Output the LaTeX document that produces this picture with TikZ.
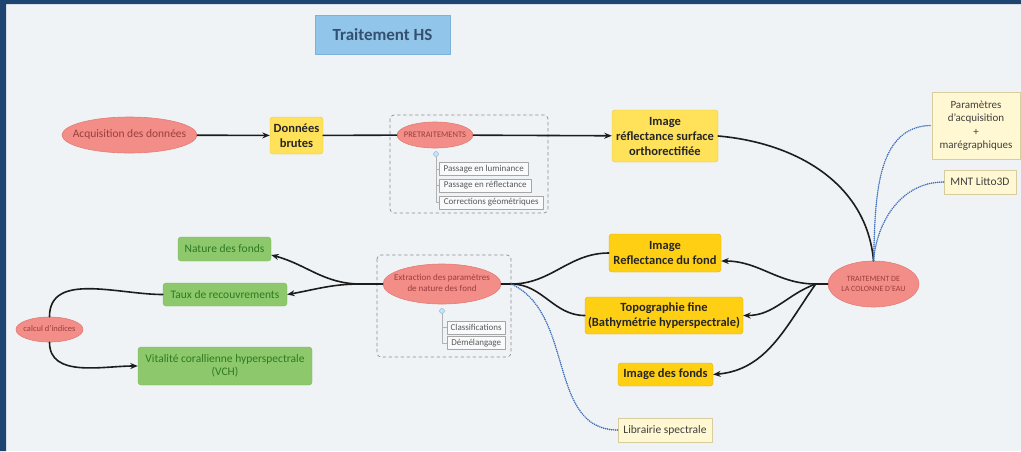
\documentclass[tikz,border=0pt]{standalone}
\usepackage{fontspec}
\setmainfont{Carlito}
\usetikzlibrary{shapes.geometric,arrows.meta}
\definecolor{cadre}{HTML}{1E4572}
\definecolor{fond}{HTML}{F0F3F6}
\definecolor{saumon}{HTML}{F28D88}
\definecolor{saumonbord}{HTML}{E27C77}
\definecolor{saumontexte}{HTML}{9C3F3C}
\definecolor{jaunec}{HTML}{FFE25A}
\definecolor{jauneb}{HTML}{E2C547}
\definecolor{dore}{HTML}{FFCF14}
\definecolor{doreb}{HTML}{E0AE00}
\definecolor{vertf}{HTML}{8DC86C}
\definecolor{vertb}{HTML}{7CB95C}
\definecolor{vertt}{HTML}{2E7A22}
\definecolor{creme}{HTML}{FFF8D2}
\definecolor{cremeb}{HTML}{D6CC9E}
\definecolor{bleut}{HTML}{92C5EA}
\definecolor{bleutb}{HTML}{7BB1DA}
\definecolor{bleutexte}{HTML}{33506F}
\definecolor{pointille}{HTML}{3A6DB8}
\definecolor{encre}{HTML}{1C1C1C}
% texte sans largeur : l'ellipse garde la taille donnee
\newcommand{\ovtxt}[1]{\makebox[0pt]{\begin{tabular}{@{}c@{}}#1\end{tabular}}}

\begin{document}
\begin{tikzpicture}[x=1pt,y=1pt,>={Stealth[length=7.5pt,width=6pt]},line join=round,line cap=round,
	font=\fontsize{11.5}{13.5}\selectfont,
	titre/.style={draw=bleutb,fill=bleut,text=bleutexte,font=\fontsize{17}{20}\selectfont\bfseries},
	ovale/.style={ellipse,draw=saumonbord,fill=saumon,text=saumontexte,inner sep=0pt,line width=0.6pt},
	jaune/.style={draw=jauneb,fill=jaunec,rounded corners=3pt,inner sep=0pt,align=center,text=black!85,font=\fontsize{12.5}{15}\selectfont\bfseries},
	dore/.style={jaune,draw=doreb,fill=dore},
	vert/.style={draw=vertb,fill=vertf,rounded corners=3pt,inner sep=0pt,align=center,text=vertt},
	note/.style={draw=cremeb,fill=creme,inner sep=0pt,align=center,text=black!75},
	sous/.style={draw=black!35,fill=white!60!fond,inner sep=0pt,anchor=west,minimum height=13,text=black!65,font=\fontsize{9}{10}\selectfont},
	puce/.style={circle,draw=bleutb,fill=bleut!50,inner sep=0pt,minimum size=5},
	lien/.style={line width=1.6pt,draw=encre},
	bleu/.style={line width=1.7pt,draw=pointille,dash pattern=on 0pt off 2pt},
	groupe/.style={dashed,draw=black!45,rounded corners=4pt,line width=0.7pt}]
	\useasboundingbox (0,0) rectangle (1021,-451);
	\fill[fond] (0,0) rectangle (1021,-451);
	\fill[cadre] (0,0) rectangle (6,-451) (0,0) rectangle (1021,-4);
	\draw[groupe] (390,-115) rectangle (548,-213);
	\draw[groupe] (377,-255) rectangle (511,-357);
	% noeuds
	\node[titre,minimum width=135,minimum height=39] (titre) at (382.5,-34.5) {Traitement HS};
	\node[ovale,minimum width=135,minimum height=36] (acq) at (129.5,-135) {\ovtxt{Acquisition des données}};
	\node[jaune,minimum width=53,minimum height=37] (brutes) at (296.5,-135.5) {Données\\brutes};
	\node[ovale,minimum width=76,minimum height=26,font=\fontsize{8.5}{10}\selectfont] (pre) at (435,-135) {\ovtxt{PRETRAITEMENTS}};
	\node[jaune,minimum width=106,minimum height=52] (surf) at (665,-136) {Image\\réflectance surface\\orthorectifiée};
	\node[ovale,minimum width=91,minimum height=46,font=\fontsize{8}{10}\selectfont] (colonne) at (873.5,-284) {\ovtxt{TRAITEMENT DE\\LA COLONNE D'EAU}};
	\node[note,minimum width=88,minimum height=67,font=\fontsize{11}{13.5}\selectfont] (param) at (976,-125.5) {Paramètres\\d'acquisition\\+\\marégraphiques};
	\node[note,minimum width=72,minimum height=24] (mnt) at (980,-182) {MNT Litto3D};
	\node[dore,minimum width=112,minimum height=38] (rfond) at (665,-253) {Image\\Reflectance du fond};
	\node[dore,minimum width=158,minimum height=37] (topo) at (664,-315.5) {Topographie fine\\(Bathymétrie hyperspectrale)};
	\node[dore,minimum width=95,minimum height=23] (ifonds) at (665.5,-374.5) {Image des fonds};
	\node[ovale,minimum width=118,minimum height=40,font=\fontsize{9}{11}\selectfont] (extr) at (442,-284) {\ovtxt{Extraction des paramètres\\de nature des fond}};
	\node[note,minimum width=94,minimum height=24] (lib) at (665,-430) {Librairie spectrale};
	\node[vert,minimum width=93,minimum height=24] (nature) at (224.5,-249) {Nature des fonds};
	\node[vert,minimum width=124,minimum height=23] (taux) at (225,-294.5) {Taux de recouvrements};
	\node[ovale,minimum width=67,minimum height=25,font=\fontsize{8.5}{10}\selectfont] (calc) at (49.5,-329.5) {\ovtxt{calcul d'indices}};
	\node[vert,minimum width=174,minimum height=38] (vch) at (225,-366) {Vitalité corallienne hyperspectrale\\(VCH)};
	% sous-elements
	\node[sous,minimum width=89] (lum) at (439,-169) {Passage en luminance};
	\node[sous,minimum width=92] (refl) at (439,-185.5) {Passage en réflectance};
	\node[sous,minimum width=104] (geo) at (439,-202.5) {Corrections géométriques};
	\node[sous,minimum width=58] (classif) at (447,-327.5) {Classifications};
	\node[sous,minimum width=58] (demel) at (447,-343) {Démélangage};
	\node[puce] (p1) at (436,-154) {};
	\node[puce] (p2) at (442,-311) {};
	\draw[black!30,line width=0.6pt] (p1.south) |- (lum.west) (p1.south) |- (refl.west) (p1.south) |- (geo.west);
	\draw[black!30,line width=0.6pt] (p2.south) |- (classif.west) (p2.south) |- (demel.west);
	% liens
	\draw[lien,->] (acq) -- (brutes);
	\draw[lien] (brutes) -- (pre);
	\draw[lien,->] (pre) -- (surf);
	\draw[lien] (surf.east) to[out=-5,in=95] (colonne.north);
	\draw[bleu] (colonne.north) to[out=88,in=180] (param.west);
	\draw[bleu] (colonne.north) to[out=85,in=180] (mnt.west);
	\coordinate (c1) at ([xshift=-12]colonne.west);
	\draw[lien] (colonne.west) -- (c1);
	\draw[lien,->] (c1) to[out=180,in=0] ([yshift=-8]rfond.east);
	\draw[lien,->] (c1) to[out=200,in=0] (topo.east);
	\draw[lien,->] (c1) to[out=235,in=5] (ifonds.east);
	\coordinate (e1) at ([xshift=10]extr.east);
	\draw[lien] (extr.east) -- (e1);
	\draw[lien] (e1) to[out=0,in=180] (rfond.west);
	\draw[lien] (e1) to[out=0,in=180] (topo.west);
	\draw[bleu] (e1) to[out=-25,in=180] (lib.west);
	\coordinate (e2) at ([xshift=-22]extr.west);
	\draw[lien] (extr.west) -- (e2);
	\draw[lien,->] (e2) to[out=180,in=-15] ([yshift=-6]nature.east);
	\draw[lien,->] (e2) to[out=180,in=10] (taux.east);
	\draw[lien] (taux.west) to[out=180,in=90] (calc.north);
	\draw[lien,->] (calc.south) to[out=-90,in=180] (vch.west);
\end{tikzpicture}
\end{document}
